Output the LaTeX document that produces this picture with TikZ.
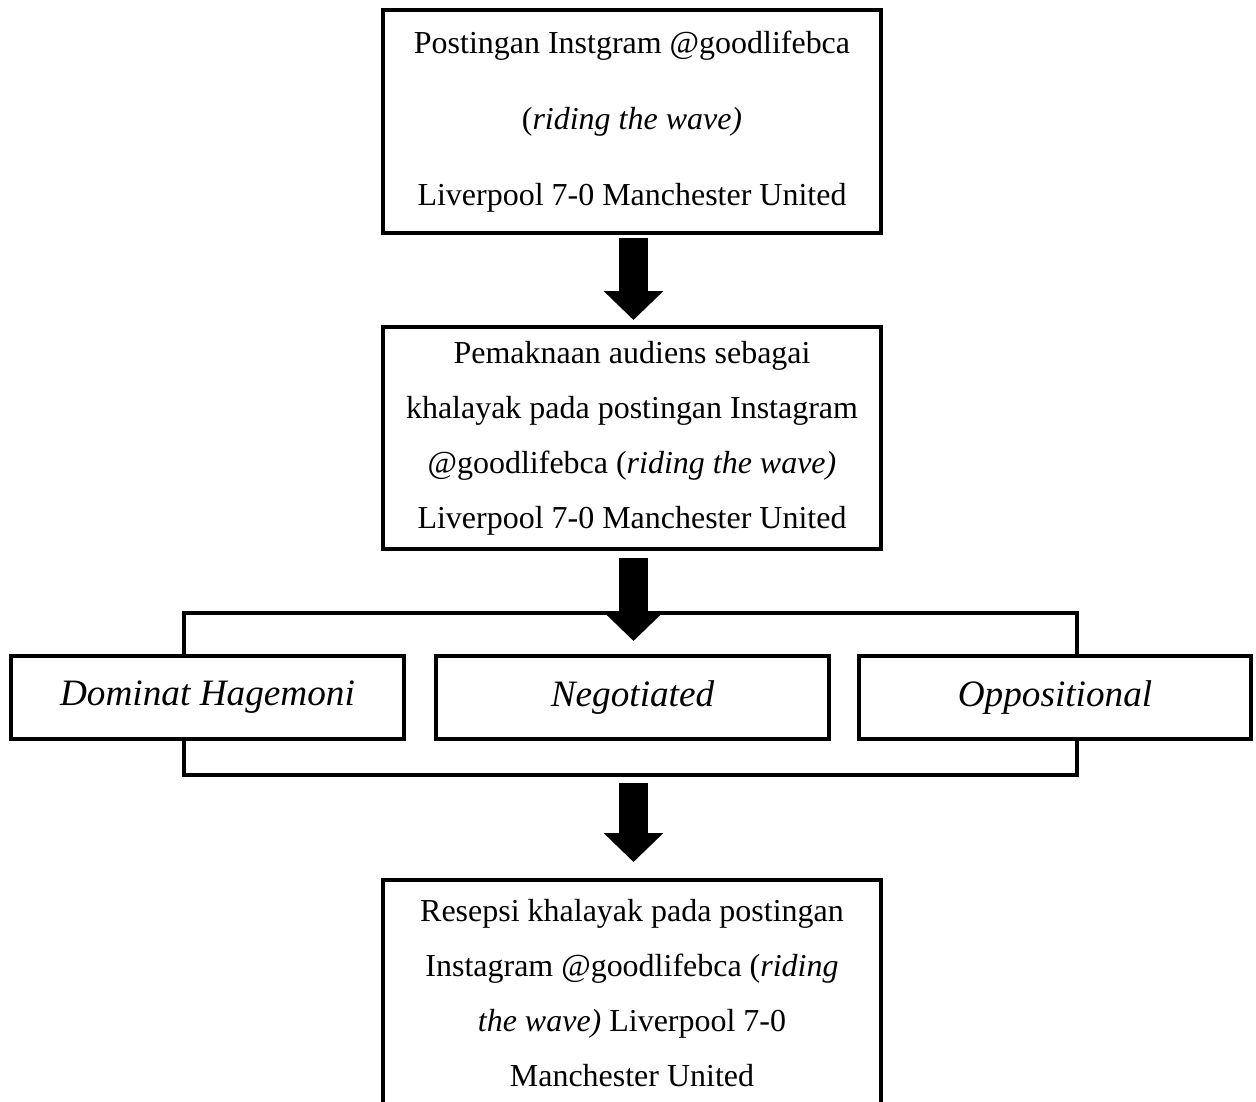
\documentclass[tikz,border=0pt]{standalone}
\usepackage{fontspec}
\setmainfont{Liberation Serif}
\usetikzlibrary{arrows.meta,calc}
\begin{document}
\begin{tikzpicture}[x=0.02cm,y=-0.02cm,
  box/.style={draw, line width=0.08cm, fill=white, inner sep=0pt, align=center, minimum width=9.96cm},
  bigtext/.style={font=\fontsize{18.2}{43.2}\selectfont},
  midtext/.style={font=\fontsize{18.2}{31.3}\selectfont},
  choice/.style={draw, line width=0.08cm, fill=white, inner sep=0pt, minimum width=7.86cm, minimum height=1.66cm, font=\fontsize{21.2}{25}\selectfont\itshape},
  frame/.style={draw, line width=0.08cm, inner sep=0pt, minimum width=17.88cm, minimum height=3.25cm},
  bigarrow/.style={line width=0.58cm, -{Triangle[length=0.58cm,width=1.16cm]}},
]
\useasboundingbox (0,0) rectangle (1256,1101);
\node[box,bigtext,minimum height=4.46cm] (b1) at (632,121.5)
  {Postingan Instgram @goodlifebca\\(\textit{riding the wave)}\\Liverpool 7-0 Manchester United};
\node[box,midtext,minimum height=4.44cm] (b2) at (632,438)
  {Pemaknaan audiens sebagai\\khalayak pada postingan Instagram\\@goodlifebca (\textit{riding the wave)}\\Liverpool 7-0 Manchester United};
\node[frame] (fr) at (630.5,693.75) {};
\node[choice] (ca) at (207.5,697.5) {Dominat Hagemoni};
\node[choice] (cb) at (632.5,697.5) {Negotiated};
\node[choice] (cc) at (1055,697.5) {Oppositional};
\node[box,midtext,minimum height=4.52cm] (b4) at (632,993)
  {Resepsi khalayak pada postingan\\Instagram @goodlifebca (\textit{riding}\\\textit{the wave)} Liverpool 7-0\\Manchester United};
\draw[bigarrow] ($(b1.south)+(1.5,3)$) -- ($(b2.north)+(1.5,-5)$);
\draw[bigarrow] ($(b2.south)+(1.5,7)$) -- ($(cb.north)+(1,-13)$);
\draw[bigarrow] ($(fr.south)+(3,6)$) -- ($(b4.north)+(1.5,-16)$);
\end{tikzpicture}
\end{document}
